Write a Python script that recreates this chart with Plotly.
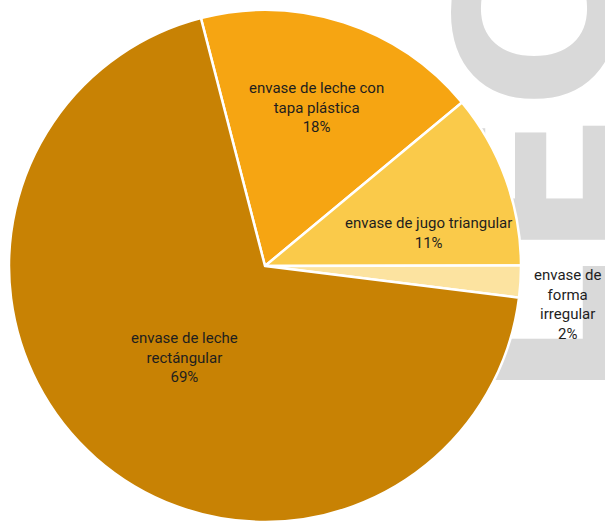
import math
import plotly.graph_objects as go

# Envases de leche y jugo por tipo (porcentaje)
labels = [
    "envase de leche con<br>tapa plástica",
    "envase de jugo triangular",
    "envase de<br>forma<br>irregular",
    "envase de leche<br>rectángular",
]
values = [18, 11, 2, 69]
colors = ["#F6A512", "#FACA4A", "#FCE3A0", "#C88204"]

# label placement: distance from centre (fraction of radius) and angular nudge (deg)
label_radius = [0.65, 0.65, 1.19, 0.475]
label_nudge = [0, 8.4, 3.8, 0]

W, H = 605, 522
TOP = 10
cx, r = 265, 256
cy = TOP + r
ROTATION = -14.5

FONT = "Roboto, Liberation Sans Narrow, Arial Narrow, sans-serif"

fig = go.Figure()
fig.add_trace(go.Pie(
    labels=labels,
    values=values,
    sort=False,
    direction="clockwise",
    rotation=ROTATION,
    marker=dict(colors=colors, line=dict(color="white", width=2.5)),
    textinfo="none",
    showlegend=False,
    hoverinfo="label+percent",
    domain=dict(x=[(cx - r) / W, (cx + r) / W], y=[0, 1]),
))

# slice labels, positioned from each slice's mid angle
total = sum(values)
start = ROTATION
for lab, v, rf, nudge in zip(labels, values, label_radius, label_nudge):
    sweep = 360.0 * v / total
    ang = math.radians(start + sweep / 2 + nudge)
    start += sweep
    px = cx + rf * r * math.sin(ang)
    py = cy - rf * r * math.cos(ang)
    pct = round(100.0 * v / total)
    fig.add_annotation(
        x=px / W, y=(H - py) / (H - TOP), xref="paper", yref="paper",
        text=f"{lab}<br>{pct}%", showarrow=False,
        xanchor="center", yanchor="middle", align="center",
        font=dict(family=FONT, size=15, color="#1e1e1e"),
    )

# Large grey word in the background, behind the pie
wx, wy = 522, 7
fig.add_shape(
    type="rect", xref="paper", yref="paper",
    x0=wx / W - 0.02, x1=wx / W + 0.02,
    y0=(H - wy) / (H - TOP) - 0.02, y1=(H - wy) / (H - TOP) + 0.02,
    line=dict(width=0), fillcolor="rgba(0,0,0,0)", layer="below",
    label=dict(text="<b>LECHE</b>", textangle=-90, textposition="middle center",
               xanchor="center", yanchor="middle",
               font=dict(family="DejaVu Sans", size=220, color="#D9D9D9")),
)

fig.update_layout(
    width=W, height=H,
    margin=dict(l=0, r=0, t=TOP, b=0),
    paper_bgcolor="white", plot_bgcolor="white",
)

fig.write_html("out.html")
